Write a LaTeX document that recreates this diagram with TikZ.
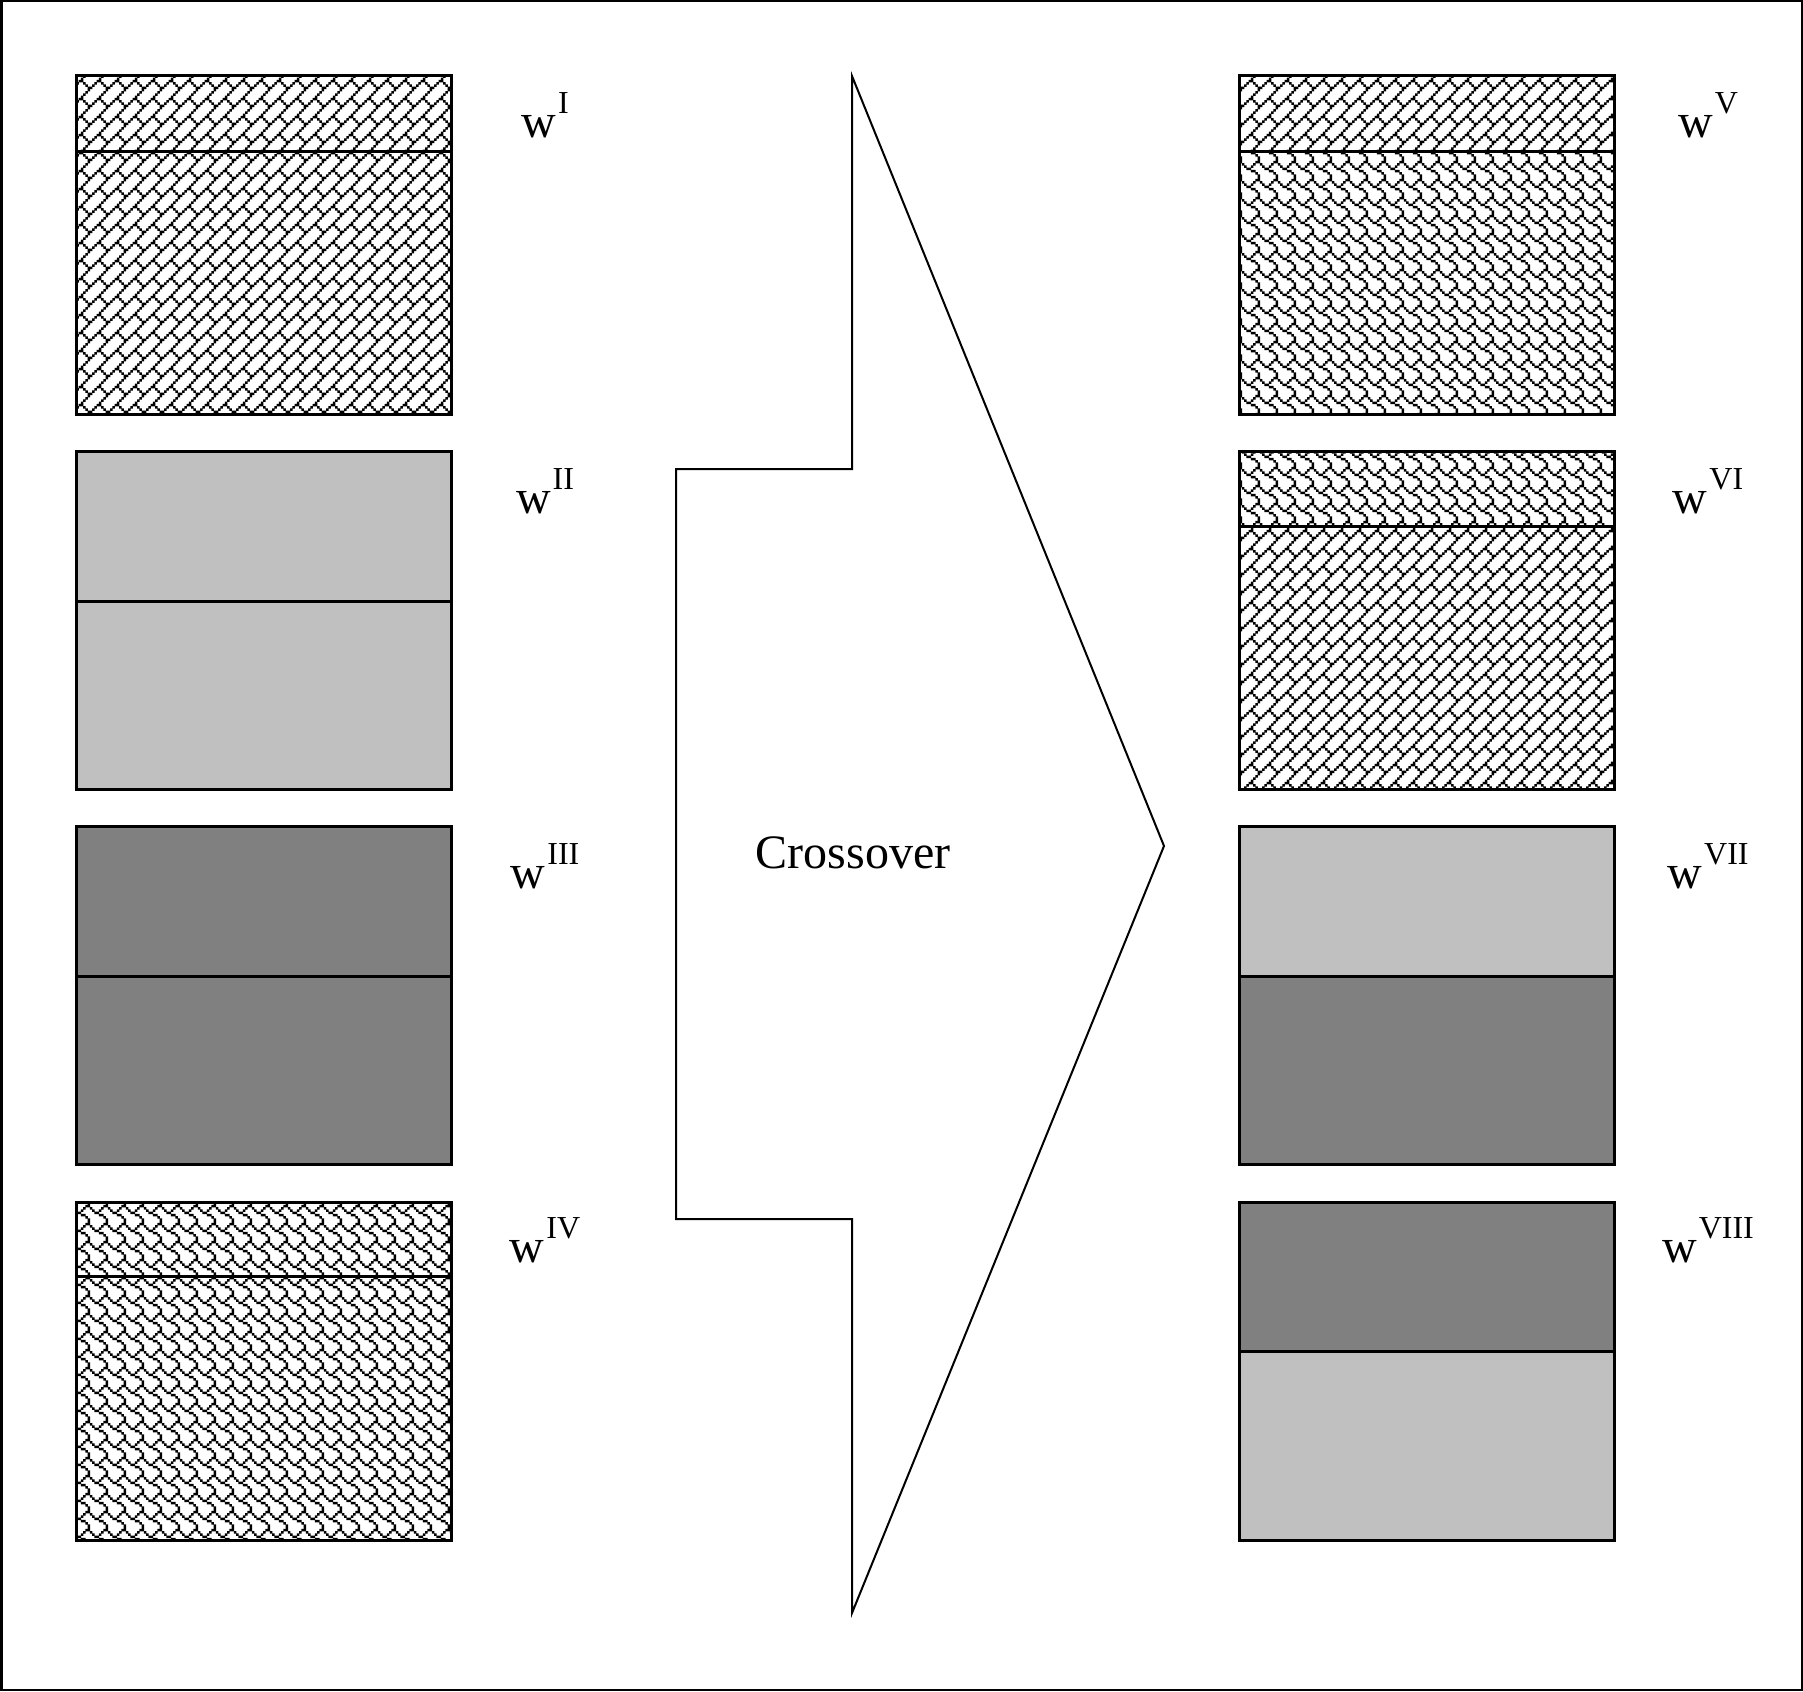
\documentclass[tikz,border=0pt]{standalone}
\usepackage{fontspec}
\setmainfont{Liberation Serif}
\usetikzlibrary{patterns}
\definecolor{lgray}{HTML}{C0C0C0}
\definecolor{dgray}{HTML}{808080}
\newcommand\bitpx[2]{\pgfpathrectangle{\pgfpoint{#1*2.25pt-0.05pt}{(7-#2)*2.25pt-0.05pt}}{\pgfpoint{2.35pt}{2.35pt}}}
% diagonal brick
\pgfdeclarepatternformonly{dbrick}{\pgfpoint{-0.5pt}{-0.5pt}}{\pgfpoint{18.5pt}{18.5pt}}{\pgfpoint{18pt}{18pt}}{%
  \bitpx{7}{0}\bitpx{6}{1}\bitpx{5}{2}\bitpx{4}{3}%
  \bitpx{3}{4}\bitpx{4}{4}\bitpx{2}{5}\bitpx{5}{5}%
  \bitpx{1}{6}\bitpx{6}{6}\bitpx{0}{7}\bitpx{7}{7}%
  \pgfusepath{fill}}
% shingle
\pgfdeclarepatternformonly{shingle}{\pgfpoint{-0.5pt}{-0.5pt}}{\pgfpoint{18.5pt}{18.5pt}}{\pgfpoint{18pt}{18pt}}{%
  \bitpx{6}{0}\bitpx{7}{0}\bitpx{0}{1}\bitpx{5}{1}%
  \bitpx{1}{2}\bitpx{4}{2}\bitpx{2}{3}\bitpx{3}{3}%
  \bitpx{4}{4}\bitpx{5}{4}\bitpx{6}{5}\bitpx{7}{6}\bitpx{7}{7}%
  \pgfusepath{fill}}
\newcommand\gbox[6]{% name, left x, top y, divider y, top style, bottom style
  \path[#5] (#2,#3) rectangle (#2+375,#4);
  \path[#6] (#2,#4) rectangle (#2+375,#3+338);
  \node[boxline, anchor=north west] (#1) at (#2,#3) {};
  \draw[line width=3pt] (#2,#4) -- (#2+375,#4);
}
\newcommand\wlab[1]{\fontsize{48}{50}\selectfont w\kern2pt\raisebox{24pt}{\fontsize{32}{34}\selectfont #1}}
\begin{document}
\begin{tikzpicture}[x=1pt,y=-1pt,
  boxline/.style={draw, line width=3pt, minimum width=375pt, minimum height=338pt, inner sep=0pt, outer sep=0pt},
  pa/.style={pattern=dbrick},
  pb/.style={pattern=shingle},
  lg/.style={fill=lgray},
  dg/.style={fill=dgray},
  lbl/.style={anchor=base, inner sep=0pt}]
\useasboundingbox (0,0) rectangle (1803,1691);
\draw[line width=2.5pt] (1.25,1.25) rectangle (1801.75,1689.75);
% left column
\gbox{bI}{76}{76}{151}{pa}{pa}
\gbox{bII}{76}{451}{601}{lg}{lg}
\gbox{bIII}{76}{826}{976}{dg}{dg}
\gbox{bIV}{76}{1202}{1276}{pb}{pb}
% right column
\gbox{bV}{1239}{76}{151}{pa}{pb}
\gbox{bVI}{1239}{451}{526}{pb}{pa}
\gbox{bVII}{1239}{826}{976}{lg}{dg}
\gbox{bVIII}{1239}{1202}{1351}{dg}{lg}
% labels
\node[lbl] (lI) at (545,137) {\wlab{I}};
\node[lbl] (lII) at (545,513) {\wlab{II}};
\node[lbl] (lIII) at (545,888) {\wlab{III}};
\node[lbl] (lIV) at (545,1262) {\wlab{IV}};
\node[lbl] (lV) at (1708,137) {\wlab{V}};
\node[lbl] (lVI) at (1708,513) {\wlab{VI}};
\node[lbl] (lVII) at (1708,888) {\wlab{VII}};
\node[lbl] (lVIII) at (1708,1262) {\wlab{VIII}};
% arrow
\draw[line width=2pt, line join=miter] (852,76) -- (852,469) -- (676,469) -- (676,1219) -- (852,1219) -- (852,1613) -- (1164,846) -- cycle;
\node[anchor=base, inner sep=0pt] (cross) at (853,868) {\fontsize{48}{50}\selectfont Crossover};
\end{tikzpicture}
\end{document}
